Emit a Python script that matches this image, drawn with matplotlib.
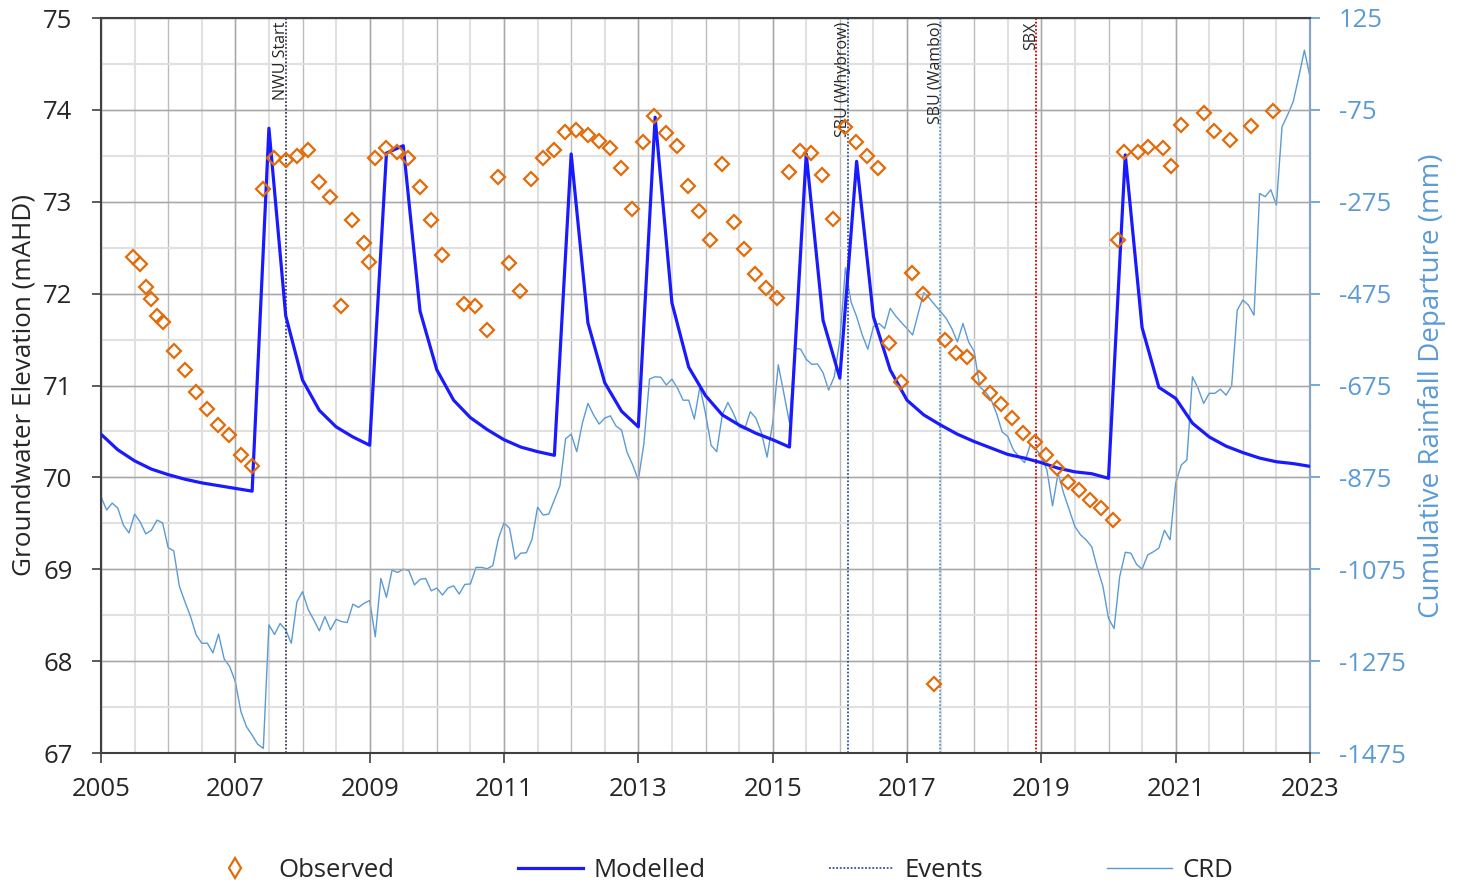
import matplotlib
matplotlib.use("Agg")
import matplotlib.pyplot as plt
from matplotlib.lines import Line2D
from matplotlib.ticker import MultipleLocator, FixedLocator, NullLocator
import numpy as np

plt.rcParams['font.family'] = ['Open Sans', 'DejaVu Sans']
plt.rcParams['axes.unicode_minus'] = False

# ---------------- data ----------------
obs_year = [2005.48, 2005.58, 2005.67, 2005.74, 2005.83, 2005.92, 2006.09, 2006.25, 2006.41, 2006.58,
            2006.74, 2006.91, 2007.08, 2007.25, 2007.41, 2007.58, 2007.75, 2007.92, 2008.08, 2008.25,
            2008.41, 2008.57, 2008.74, 2008.92, 2008.99, 2009.08, 2009.24, 2009.41, 2009.57, 2009.75,
            2009.91, 2010.08, 2010.40, 2010.57, 2010.75, 2010.91, 2011.07, 2011.24, 2011.40, 2011.58,
            2011.74, 2011.91, 2012.07, 2012.25, 2012.41, 2012.58, 2012.74, 2012.91, 2013.07, 2013.23,
            2013.41, 2013.58, 2013.74, 2013.90, 2014.07, 2014.25, 2014.42, 2014.57, 2014.74, 2014.90,
            2015.06, 2015.24, 2015.41, 2015.57, 2015.73, 2015.90, 2016.08, 2016.24, 2016.40, 2016.57,
            2016.73, 2016.91, 2017.07, 2017.24, 2017.40, 2017.57, 2017.73, 2017.90, 2018.07, 2018.24,
            2018.40, 2018.56, 2018.73, 2018.91, 2019.07, 2019.24, 2019.40, 2019.56, 2019.72, 2019.89,
            2020.07, 2020.14, 2020.23, 2020.44, 2020.59, 2020.81, 2020.93, 2021.08, 2021.42, 2021.57,
            2021.81, 2022.12, 2022.45]
obs_level = [72.40, 72.32, 72.07, 71.94, 71.76, 71.69, 71.38, 71.17, 70.93, 70.74,
             70.57, 70.46, 70.24, 70.12, 73.14, 73.48, 73.45, 73.50, 73.56, 73.21,
             73.05, 71.87, 72.80, 72.55, 72.34, 73.48, 73.59, 73.54, 73.48, 73.16,
             72.80, 72.42, 71.89, 71.87, 71.60, 73.27, 72.33, 72.03, 73.25, 73.48,
             73.56, 73.76, 73.78, 73.73, 73.66, 73.59, 73.37, 72.92, 73.65, 73.93,
             73.75, 73.61, 73.17, 72.90, 72.58, 73.41, 72.78, 72.49, 72.21, 72.06,
             71.95, 73.32, 73.55, 73.53, 73.29, 72.81, 73.81, 73.65, 73.50, 73.37,
             71.46, 71.04, 72.22, 72.00, 67.75, 71.50, 71.35, 71.31, 71.08, 70.92,
             70.80, 70.65, 70.48, 70.39, 70.24, 70.10, 69.95, 69.86, 69.75, 69.67,
             69.54, 72.58, 73.54, 73.54, 73.60, 73.59, 73.39, 73.84, 73.97, 73.77,
             73.67, 73.82, 73.99]

# modelled level, quarterly from 2005.00 to 2023.00
model_start = 2005.0
model_level = [70.47, 70.30, 70.18, 70.09, 70.03, 69.98, 69.94, 69.91, 69.88, 69.85,
               73.80, 71.76, 71.06, 70.73, 70.55, 70.44, 70.35,
               73.53, 73.61, 71.81, 71.17, 70.84, 70.65, 70.52, 70.41, 70.33, 70.28, 70.24,
               73.52, 71.68, 71.03, 70.72, 70.55,
               73.92, 71.90, 71.20, 70.89, 70.68, 70.57, 70.48, 70.41, 70.33,
               73.52, 71.71, 71.08,
               73.44, 71.75, 71.17, 70.84, 70.68, 70.57, 70.47, 70.39, 70.32, 70.25, 70.21,
               70.16, 70.10, 70.06, 70.04, 69.99,
               73.51, 71.63, 70.98, 70.86, 70.59, 70.44, 70.34, 70.27, 70.21, 70.17, 70.15, 70.12]

# cumulative rainfall departure (mm), monthly from Jan 2005
crd_start = 2005.0
crd_mm = [-917, -946, -931, -942, -979, -996, -955, -972, -998, -990, -968, -974,
          -1028, -1035, -1112, -1146, -1178, -1218, -1236, -1236, -1257, -1216, -1270, -1287,
          -1320, -1385, -1418, -1436, -1456, -1465, -1196, -1217, -1193, -1207, -1236, -1146,
          -1124, -1162, -1185, -1209, -1178, -1207, -1184, -1189, -1191, -1151, -1158, -1149,
          -1143, -1222, -1095, -1136, -1077, -1082, -1075, -1078, -1109, -1097, -1095, -1122,
          -1116, -1131, -1116, -1111, -1129, -1108, -1107, -1071, -1071, -1074, -1067, -1008,
          -974, -986, -1053, -1040, -1039, -1010, -940, -957, -955, -924, -893, -791,
          -781, -819, -757, -714, -739, -759, -746, -741, -763, -772, -821, -848,
          -881, -801, -661, -656, -657, -674, -661, -681, -707, -707, -748, -678,
          -736, -805, -819, -739, -712, -736, -765, -770, -732, -746, -778, -831,
          -757, -630, -692, -756, -594, -596, -618, -629, -628, -647, -685, -656,
          -576, -419, -493, -525, -565, -596, -547, -540, -551, -507, -524, -538,
          -551, -565, -518, -473, -485, -500, -514, -529, -551, -580, -540, -580,
          -601, -678, -689, -705, -736, -776, -786, -815, -830, -843, -805, -812,
          -830, -859, -937, -866, -910, -946, -982, -1000, -1011, -1026, -1072, -1112,
          -1182, -1204, -1091, -1038, -1040, -1064, -1075, -1044, -1037, -1029, -990, -1011,
          -888, -848, -837, -656, -681, -714, -692, -692, -683, -696, -676, -511,
          -489, -500, -522, -257, -264, -249, -282, -112, -86, -57, -3, 55, -3]

event_names = ['NWU Start', 'SBU (Whybrow)', 'SBU (Wambo)', 'SBX']
event_years = [2007.75, 2016.12, 2017.49, 2018.92]
event_colors = ['#3c3c5a', '#2f5597', '#5b9bd5', '#d00000']

left_ticks = [67, 68, 69, 70, 71, 72, 73, 74, 75]
right_ticks = [-1475, -1275, -1075, -875, -675, -475, -275, -75, 125]
year_ticks = [2005, 2007, 2009, 2011, 2013, 2015, 2017, 2019, 2021, 2023]

legend_labels = ['Observed', 'Modelled', 'Events', 'CRD']

# ---------------- styling ----------------
ORANGE = '#e36c09'
MODEL_BLUE = '#1a1aff'
CRD_BLUE = '#5b9bd5'
DARK = '#262626'
SPINE = '#404040'
FS = 18.5

model_year = model_start + 0.25 * np.arange(len(model_level))
crd_year = crd_start + np.arange(len(crd_mm)) / 12.0

fig = plt.figure(figsize=(14.61, 8.88), dpi=100)
pos = [101 / 1461, 135 / 888, 1209 / 1461, 735 / 888]

# background grid axes (yearly / half-yearly lines)
gax = fig.add_axes(pos, zorder=0)
gax.set_xlim(2005, 2023)
gax.set_ylim(67, 75)
gax.xaxis.set_major_locator(MultipleLocator(1))
gax.xaxis.set_minor_locator(MultipleLocator(0.5))
gax.yaxis.set_major_locator(MultipleLocator(1))
gax.yaxis.set_minor_locator(MultipleLocator(0.5))
gax.grid(which='minor', color='#e0e0e0', lw=1.5)
gax.grid(which='major', color='#bcbcbc', lw=1.0)
gax.tick_params(which='both', length=0, labelbottom=False, labelleft=False)
for s in gax.spines.values():
    s.set_visible(False)

# main axes
ax = fig.add_axes(pos, zorder=2)
ax.patch.set_visible(False)
ax.set_axisbelow(True)
ax2 = ax.twinx()
ax2.set_zorder(1)
ax2.patch.set_visible(False)

ax2.plot(crd_year, crd_mm, color=CRD_BLUE, lw=1.0)
ax2.set_ylim(-1475, 125)
ax2.yaxis.set_major_locator(FixedLocator(right_ticks))
ax2.tick_params(axis='y', colors=CRD_BLUE, labelsize=FS, length=7, width=1.2, pad=14)
for t in ax2.get_yticklabels():
    t.set_color(CRD_BLUE)
for side in ['left', 'top', 'bottom']:
    ax2.spines[side].set_visible(False)
ax2.spines['right'].set_color('#86a3c8')
ax2.spines['right'].set_linewidth(1.6)
ax2.set_ylabel('Cumulative Rainfall Departure (mm)', color=CRD_BLUE, fontsize=20)
ax2.yaxis.set_label_coords((1418 - 101) / 1209, 0.5)

ax.plot(model_year, model_level, color=MODEL_BLUE, lw=2.3, zorder=3)
ax.plot(obs_year, obs_level, ls='none', marker='D', markersize=7.5, mfc='none',
        mec=ORANGE, mew=1.6, zorder=4)

for name, yr, col in zip(event_names, event_years, event_colors):
    ax.axvline(yr, color=col, lw=1.3, ls=(0, (1, 1)), zorder=2)
    ax.text(yr + 0.05, 0.995, name, rotation=90, ha='right', va='top', fontsize=11.5,
            color='#262626', transform=ax.get_xaxis_transform())

ax.set_xlim(2005, 2023)
ax.set_ylim(67, 75)
ax.xaxis.set_major_locator(FixedLocator(year_ticks))
ax.xaxis.set_minor_locator(NullLocator())
ax.yaxis.set_major_locator(FixedLocator(left_ticks))
ax.grid(which='major', color='#a8a8a8', lw=1.0)
ax.tick_params(axis='x', labelsize=FS, length=7, width=1.2, colors=SPINE, labelcolor=DARK, pad=10)
ax.tick_params(axis='y', labelsize=FS, length=6.5, width=1.2, colors=SPINE, labelcolor=DARK, pad=14)
ax.spines['right'].set_visible(False)
for side in ['left', 'top', 'bottom']:
    ax.spines[side].set_color(SPINE)
    ax.spines[side].set_linewidth(1.5)
ax.set_ylabel('Groundwater Elevation (mAHD)', color=DARK, fontsize=18.8)
ax.yaxis.set_label_coords((37 - 101) / 1209, 0.5)

handles = [
    Line2D([], [], ls='none', marker='d', markersize=10, mfc='none', mec=ORANGE, mew=1.6),
    Line2D([], [], color=MODEL_BLUE, lw=2.3),
    Line2D([], [], color='#2f5597', lw=1.3, ls=(0, (1, 1))),
    Line2D([], [], color=CRD_BLUE, lw=1.0),
]
fig.legend(handles, legend_labels, loc='center', bbox_to_anchor=(718 / 1461, 1 - 870 / 888),
           ncol=4, frameon=False, fontsize=FS, handlelength=2.55, handletextpad=0.4,
           columnspacing=4.8, labelcolor=DARK)

fig.savefig('out.png', dpi=100, facecolor='white')
